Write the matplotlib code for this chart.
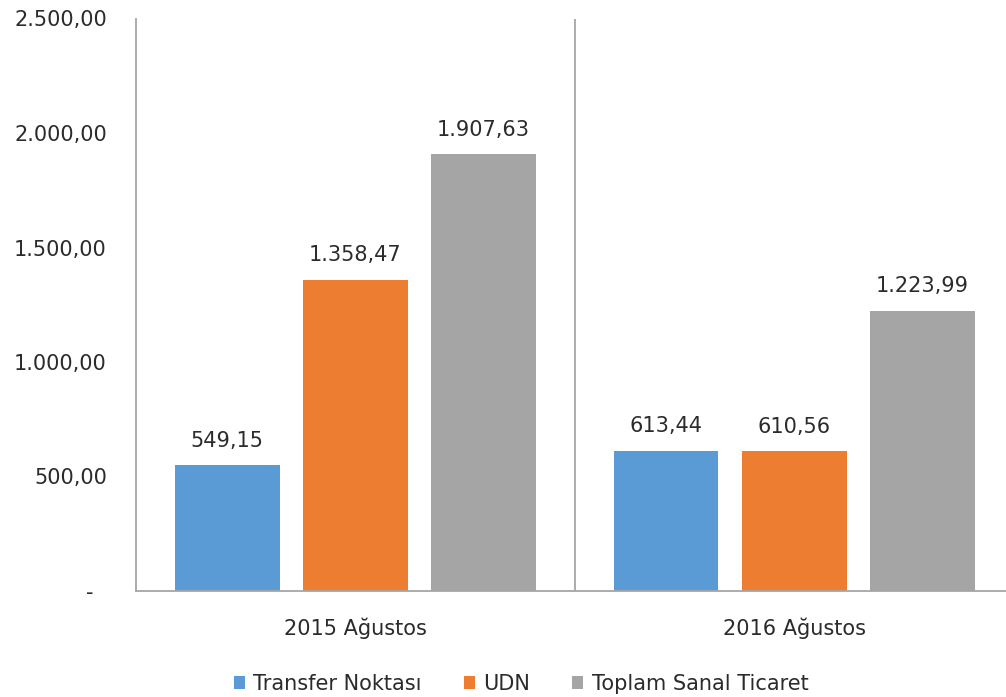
import matplotlib
matplotlib.use("Agg")
import matplotlib.pyplot as plt
import numpy as np

categories = ["2015 Ağustos", "2016 Ağustos"]
series_names = ["Transfer Noktası", "UDN", "Toplam Sanal Ticaret"]
transfer = [549.15, 613.44]
udn = [1358.47, 610.56]
toplam = [1907.63, 1223.99]
yticks = [0, 500, 1000, 1500, 2000, 2500]

colors = ["#5B9BD5", "#ED7D31", "#A5A5A5"]
axis_color = "#A6A6A6"
text_color = "#2B2B2B"
fs = 15

plt.rcParams['font.family'] = ['DejaVu Sans']


def tr_fmt(v):
    s = f"{v:,.2f}"
    return s.replace(",", "X").replace(".", ",").replace("X", ".")


fig = plt.figure(figsize=(10.06, 6.97), dpi=100)
ax = fig.add_axes([136 / 1006, 106 / 697, 877.5 / 1006, 572.5 / 697])

x = np.arange(len(categories))
width = 0.239
offset = 0.292
for i, (vals, name) in enumerate(zip([transfer, udn, toplam], series_names)):
    pos = x + (i - 1) * offset
    bars = ax.bar(pos, vals, width, color=colors[i], label=name, zorder=2)
    for b, v in zip(bars, vals):
        ax.annotate(tr_fmt(v), (b.get_x() + b.get_width() / 2, v),
                    xytext=(0, 10.5), textcoords="offset points",
                    ha="center", va="bottom", fontsize=fs, color=text_color)

ax.set_xlim(-0.5, 1.5)
ax.set_ylim(0, 2500)
ax.set_yticks(yticks)
ax.set_yticklabels(["-  "] + [tr_fmt(v) for v in yticks[1:]])
ax.set_xticks(x)
ax.set_xticklabels(categories)
ax.tick_params(axis="y", length=0, pad=21, labelsize=fs, labelcolor=text_color)
ax.tick_params(axis="x", length=0, pad=19, labelsize=fs, labelcolor=text_color)

for s in ["top", "right"]:
    ax.spines[s].set_visible(False)
for s in ["left", "bottom"]:
    ax.spines[s].set_color(axis_color)
    ax.spines[s].set_linewidth(1.3)
ax.axvline(0.5, color=axis_color, linewidth=1.3, zorder=1)

fig.legend(loc="center", bbox_to_anchor=(0.518, 13 / 697), ncol=3, frameon=False,
           fontsize=fs, handlelength=0.55, handleheight=0.55, handletextpad=0.4,
           columnspacing=2.0, labelcolor=text_color)

fig.savefig("out.png", dpi=100)
